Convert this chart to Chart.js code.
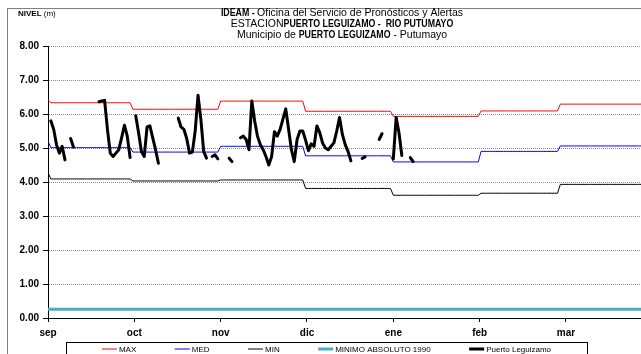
<!DOCTYPE html>
<html>
<head>
<meta charset="utf-8">
<script src="https://cdn.jsdelivr.net/npm/chart.js@4.4.0/dist/chart.umd.min.js"></script>
<style>
    html, body { margin: 0; padding: 0; background: #fff; }
</style>
</head>
<body>
<canvas id="nivel-graph" width="641" height="354"></canvas>
<script>
// meses del año hidrologico, dias contados desde el 1 de septiembre
const meses = ['sep', 'oct', 'nov', 'dic', 'ene', 'feb', 'mar'];
const marcasEje = [0, 30.5, 61, 91.5, 122, 152.5, 183];
const inicioMes = [0, 30, 61, 91, 122, 153, 181];

// niveles historicos mensuales (m)
const nivelMax = [6.33, 6.14, 6.38, 6.08, 5.93, 6.09, 6.29];
const nivelMed = [5.01, 4.88, 5.05, 4.77, 4.59, 4.90, 5.06];
const nivelMin = [4.09, 4.03, 4.06, 3.81, 3.61, 3.67, 3.93];
const inicialMax = 6.42;
const inicialMed = 5.20;
const inicialMin = 4.28;
const minimoAbsoluto = 0.26;

// nivel diario Puerto Leguizamo (null = sin dato)
const nivelDiario = [
    null, 5.80, 5.55, 5.10, 4.85, 5.05, 4.65, null, 5.28, 5.02,
    null, null, null, null, null, null, null, null, 6.36, 6.38,
    6.40, 5.55, 4.85, 4.75, 4.85, 4.95, 5.30, 5.67, 5.35, 4.72,
    null, 5.95, 5.45, 4.90, 4.75, 5.62, 5.65, 5.30, 4.95, 4.55,
    null, null, null, null, null, null, 5.88, 5.62, 5.55, 5.28,
    4.85, 4.88, 5.50, 6.55, 5.85, 4.90, 4.70, null, 4.75, 4.80,
    4.68, null, null, null, 4.70, 4.60, null, null, 5.30, 5.35,
    5.25, 4.95, 6.38, 5.80, 5.35, 5.10, 4.95, 4.75, 4.50, 4.75,
    5.48, 5.35, 5.55, 5.85, 6.15, 5.55, 4.95, 4.60, 5.25, 5.50,
    5.50, 5.23, 4.92, 5.12, 5.05, 5.65, 5.45, 5.15, 5.00, 4.95,
    5.05, 5.15, 5.50, 5.90, 5.40, 5.10, 4.90, 4.62, null, null,
    null, 4.69, 4.74, null, null, null, null, 5.25, 5.42, null,
    null, null, 4.68, 5.90, 5.45, 4.78, null, null, 4.72, 4.60
];

const tituloLineas = [
    [['IDEAM - ', true], ['Oficina del Servicio de Pronósticos y Alertas', false]],
    [['ESTACION', false], ['PUERTO LEGUIZAMO -  RIO PUTUMAYO', true]],
    [['Municipio de ', false], ['PUERTO LEGUIZAMO', true], [' - Putumayo', false]],
];

const diasEje = 210;
const fuente = '"Liberation Sans", Arial, sans-serif';

const serieMensual = (valores, inicial) => {
    const puntos = [];
    for (let d = 0; d <= diasEje; d++) {
        let m = 0;
        while (m + 1 < inicioMes.length && inicioMes[m + 1] <= d) m++;
        puntos.push({ x: d, y: d === 0 ? inicial : valores[m] });
    }
    return puntos;
};

const serieConstante = (valor) => {
    const puntos = [];
    for (let d = 0; d <= diasEje; d++) puntos.push({ x: d, y: valor });
    return puntos;
};

// el texto en negrita de Excel sale mas estrecho
const escalaNegrita = 0.88;

const anchoParte = (ctx, txt, negrita) => {
    ctx.font = negrita ? 'bold 10px ' + fuente : '10.5px ' + fuente;
    return ctx.measureText(txt).width * (negrita ? escalaNegrita : 1);
};

const marcoGrafico = {
    id: 'marcoGrafico',
    beforeDraw(chart) {
        const ctx = chart.ctx;
        ctx.save();
        ctx.strokeStyle = '#808080';
        ctx.lineWidth = 1;
        ctx.strokeRect(7.5, 8.5, 700, 400);
        ctx.restore();
    },
    afterDraw(chart) {
        const ctx = chart.ctx;
        ctx.save();
        ctx.fillStyle = '#000';
        ctx.textBaseline = 'middle';
        ctx.textAlign = 'left';

        // titulo con partes en negrita
        const centro = 342;
        tituloLineas.forEach((partes, i) => {
            const y = 13 + i * 11;
            let ancho = 0;
            partes.forEach(([txt, negrita]) => { ancho += anchoParte(ctx, txt, negrita); });
            let x = centro - ancho / 2;
            partes.forEach(([txt, negrita]) => {
                const w = anchoParte(ctx, txt, negrita);
                ctx.save();
                ctx.translate(x, y);
                if (negrita) ctx.scale(escalaNegrita, 1);
                ctx.fillText(txt, 0, 0);
                ctx.restore();
                x += w;
            });
        });

        // unidad del eje
        ctx.font = 'bold 8px ' + fuente;
        ctx.fillText('NIVEL', 18, 14);
        const w = ctx.measureText('NIVEL ').width;
        ctx.font = '8px ' + fuente;
        ctx.fillText('(m)', 18 + w, 14);

        // leyenda con marco
        const cajaX = 66, cajaAncho = 521, cajaY = 342;
        ctx.strokeStyle = '#000';
        ctx.lineWidth = 1;
        ctx.strokeRect(cajaX + 0.5, cajaY + 0.5, cajaAncho, 30);
        const orden = [1, 2, 3, 4, 0];
        const linea = 15, sep = 2, hueco = 38.5;
        ctx.font = '8px ' + fuente;
        let total = 0;
        orden.forEach((k, i) => {
            total += linea + sep + ctx.measureText(chart.data.datasets[k].label).width;
            if (i < orden.length - 1) total += hueco;
        });
        let x = cajaX + cajaAncho / 2 - total / 2;
        const yl = 349;
        orden.forEach((k) => {
            const ds = chart.data.datasets[k];
            ctx.strokeStyle = ds.borderColor;
            ctx.lineWidth = ds.borderWidth;
            ctx.beginPath();
            ctx.moveTo(x, yl);
            ctx.lineTo(x + linea, yl);
            ctx.stroke();
            x += linea + sep;
            ctx.fillStyle = '#000';
            ctx.fillText(ds.label, x, yl + 0.5);
            x += ctx.measureText(ds.label).width + hueco;
        });
        ctx.restore();
    }
};

const nivelChart = document.getElementById('nivel-graph');

let nivelGraph = new Chart(nivelChart, {
    type: 'line',
    data: {
        datasets: [{
            label: 'Puerto Leguizamo',
            data: nivelDiario.map((v, d) => ({ x: d, y: v })),
            borderColor: '#000000',
            borderWidth: 3,
            borderJoinStyle: 'round',
            borderCapStyle: 'round',
            spanGaps: false,
            order: 0,
        }, {
            label: 'MAX',
            data: serieMensual(nivelMax, inicialMax),
            borderColor: '#FF0000',
            borderWidth: 1,
            order: 1,
        }, {
            label: 'MED',
            data: serieMensual(nivelMed, inicialMed),
            borderColor: '#0000FF',
            borderWidth: 1,
            order: 1,
        }, {
            label: 'MIN',
            data: serieMensual(nivelMin, inicialMin),
            borderColor: '#000000',
            borderWidth: 1,
            order: 1,
        }, {
            label: 'MINIMO ABSOLUTO 1990',
            data: serieConstante(minimoAbsoluto),
            borderColor: '#4BACC6',
            borderWidth: 3,
            order: 2,
        }]
    },
    options: {
        responsive: false,
        animation: false,
        layout: { padding: { top: 46, right: 0, bottom: 0, left: 0 } },
        elements: { point: { radius: 0 }, line: { tension: 0 } },
        plugins: {
            legend: { display: false },
            tooltip: { enabled: false },
        },
        scales: {
            x: {
                type: 'linear',
                min: 0,
                max: 209.5,
                afterBuildTicks: (s) => { s.ticks = marcasEje.map(v => ({ value: v })); },
                afterFit: (s) => { s.height = 36; },
                ticks: {
                    callback: (v, i) => meses[i],
                    autoSkip: false,
                    maxRotation: 0,
                    padding: 5,
                    color: '#000',
                    font: { family: fuente, size: 10, weight: 'bold' },
                },
                grid: { drawOnChartArea: false, tickLength: 4, tickColor: '#000' },
                border: { color: '#000' },
            },
            y: {
                min: 0,
                max: 8,
                afterFit: (s) => { s.width = 48; },
                ticks: {
                    stepSize: 1,
                    callback: (v) => v.toFixed(2),
                    padding: 4,
                    color: '#000',
                    font: { family: fuente, size: 10, weight: 'bold' },
                },
                grid: { color: '#8c8c8c', tickLength: 5, tickColor: '#000', tickBorderDash: [] },
                border: { color: '#000', dash: [1, 1] },
            }
        }
    },
    plugins: [marcoGrafico],
});
</script>
</body>
</html>
